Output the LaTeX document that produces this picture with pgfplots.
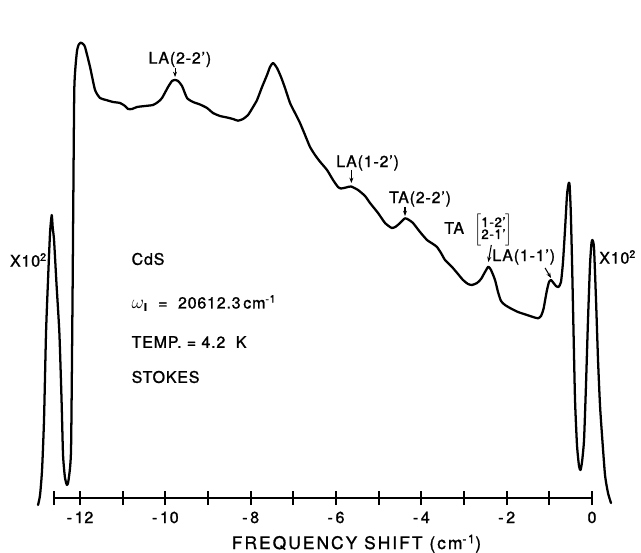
\documentclass[border=0pt]{standalone}
\usepackage{fontspec}
\setmainfont{TeX Gyre Heros}[LetterSpace=5,FakeBold=1.2]
\usepackage{pgfplots}
\pgfplotsset{compat=1.18}
\usetikzlibrary{arrows.meta}
\begin{document}
\begin{tikzpicture}[x=1pt,y=1pt]
\useasboundingbox (-40.5pt,-40.5pt) rectangle (440.25pt,373.5pt);
\begin{axis}[
  scale only axis, width=403.5pt, height=373.5pt,
  xmin=-12.61, xmax=0, ymin=0, ymax=498,
  clip=false,
  axis x line*=bottom, axis y line=none,
  x axis line style={line width=1.3pt,-},
  xtick={-12.61,-12,-11,...,0},
  xticklabels={},
  tick align=center,
  major tick length=10.5pt,
  tick style={line width=1.3pt, black},
  ytick=\empty,
  every axis plot/.append style={line width=1.7pt, line join=round, line cap=round},
]
\addplot[black, smooth, tension=0.35] coordinates {
(-12.984,-7) (-12.937,3) (-12.890,28) (-12.844,78) (-12.797,165) (-12.750,218) (-12.703,265) (-12.663,283)
(-12.640,270) (-12.609,258) (-12.550,213) (-12.484,165) (-12.433,98) (-12.398,43) (-12.352,20) (-12.305,13) (-12.269,18)
(-12.211,48) (-12.176,198) (-12.157,301) (-12.133,411) (-12.077,445) (-12.035,453) (-11.984,455.3) (-11.929,454)
(-11.883,451) (-11.765,431) (-11.648,408) (-11.531,400) (-11.390,398) (-11.226,396) (-11.062,395) (-10.945,392)
(-10.875,389) (-10.781,389) (-10.664,391) (-10.476,392) (-10.289,393) (-10.172,396) (-10.078,400) (-9.937,411)
(-9.844,417) (-9.773,418) (-9.703,417) (-9.609,412) (-9.492,400) (-9.351,396) (-9.187,393.5) (-9.023,390)
(-8.883,385) (-8.719,382) (-8.555,380.5) (-8.414,379) (-8.297,377.3) (-8.180,379) (-8.062,383) (-7.945,391)
(-7.851,398) (-7.734,411) (-7.617,423) (-7.547,431) (-7.476,435) (-7.383,430) (-7.289,421) (-7.195,410)
(-7.078,395) (-6.961,385) (-6.844,375) (-6.726,363) (-6.609,351) (-6.492,343) (-6.375,336.3) (-6.211,328)
(-6.070,318) (-5.953,311) (-5.883,309.5) (-5.765,310.5) (-5.648,311.5) (-5.484,308) (-5.320,302) (-5.203,295)
(-5.015,285) (-4.851,275) (-4.694,270) (-4.594,271.5) (-4.500,275) (-4.383,279.7) (-4.289,278) (-4.195,275)
(-4.031,266) (-3.867,258) (-3.726,254) (-3.633,251) (-3.539,245) (-3.445,238) (-3.281,231) (-3.141,224)
(-3.023,218) (-2.906,214) (-2.812,213) (-2.695,215) (-2.601,219) (-2.508,226) (-2.430,231.3) (-2.367,228)
(-2.273,218) (-2.203,206) (-2.133,197) (-2.039,193) (-1.922,190) (-1.734,186) (-1.523,183) (-1.383,181)
(-1.266,179.7) (-1.195,182) (-1.137,189) (-1.090,200) (-1.055,208) (-1.008,216) (-0.961,218) (-0.902,215)
(-0.844,212) (-0.785,211) (-0.727,216) (-0.680,236) (-0.633,268) (-0.586,303) (-0.551,314) (-0.527,314)
(-0.499,288) (-0.469,238) (-0.434,168) (-0.398,98) (-0.352,53) (-0.305,32) (-0.270,28) (-0.234,36)
(-0.187,58) (-0.141,113) (-0.094,178) (-0.047,233) (-0.012,255) (0.012,258) (0.047,250) (0.094,198)
(0.141,138) (0.187,93) (0.234,63) (0.305,23) (0.375,5) (0.445,-5)
};
% tick labels
\begin{scope}[every node/.style={anchor=base, font=\fontsize{12}{14}\selectfont}]
\node at (axis cs:-12,-25) {-\,12};
\node at (axis cs:-10,-25) {-\,10};
\node at (axis cs:-8,-25) {-\,8};
\node at (axis cs:-6,-25) {-\,6};
\node at (axis cs:-4,-25) {-\,4};
\node at (axis cs:-2,-25) {-\,2};
\node at (axis cs:0,-25) {0};
\end{scope}
\node[anchor=base, font=\fontsize{13}{15}\selectfont\addfontfeatures{LetterSpace=12}] at (axis cs:-5.52,-51) {FREQUENCY SHIFT (cm\textsuperscript{-1})};
% annotations
\begin{scope}[font=\fontsize{12}{14}\selectfont]
\node at (axis cs:-9.66,438.5) {LA(2-2')};
\draw[-{Stealth[length=4pt,width=3pt]}, line width=0.8pt] (axis cs:-9.773,430) -- (axis cs:-9.773,421);
\node at (axis cs:-5.26,335) {LA(1-2')};
\draw[-{Stealth[length=4pt,width=3pt]}, line width=0.8pt] (axis cs:-5.64,328) -- (axis cs:-5.64,315);
\node at (axis cs:-4.03,299) {TA(2-2')};
\draw[-{Stealth[length=4pt,width=3pt]}, line width=0.8pt] (axis cs:-4.383,291) -- (axis cs:-4.383,282);
\node at (axis cs:-3.23,270) {TA};
\node at (axis cs:-2.31,268) {$\left[\vcenter{\hbox{\fontsize{10}{11}\selectfont\begin{tabular}{@{}c@{}}1-2'\\[-2pt]2-1'\end{tabular}}}\right]$};
\draw[-{Stealth[length=4pt,width=3pt]}, line width=0.8pt] (axis cs:-2.36,253) -- (axis cs:-2.43,236);
\node at (axis cs:-1.60,241) {LA(1-1')};
\draw[-{Stealth[length=4pt,width=3pt]}, line width=0.8pt] (axis cs:-1.10,230) -- (axis cs:-0.96,220);
\node at (axis cs:-13.21,238) {X10\textsuperscript{2}};
\node at (axis cs:0.60,241) {X10\textsuperscript{2}};
\node[anchor=west] at (axis cs:-10.90,239) {CdS};
\node[anchor=west] at (axis cs:-10.90,195) {{\Large$\omega$}$_{\mathbf{I}}$\ \ =\ \ 20612.3\,cm\textsuperscript{-1}};
\node[anchor=west] at (axis cs:-10.90,156) {TEMP. = 4.2\ \ K};
\node[anchor=west] at (axis cs:-10.90,121) {STOKES};
\end{scope}
\end{axis}
\end{tikzpicture}
\end{document}
